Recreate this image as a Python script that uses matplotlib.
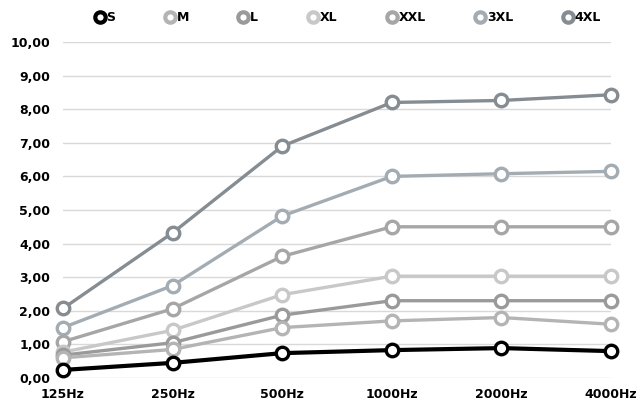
import matplotlib
matplotlib.use("Agg")
import matplotlib.pyplot as plt
from matplotlib.lines import Line2D

plt.rcParams["font.family"] = ["DejaVu Sans"]

categories = ["125Hz", "250Hz", "500Hz", "1000Hz", "2000Hz", "4000Hz"]
sizes = ["S", "M", "L", "XL", "XXL", "3XL", "4XL"]

s_vals = [0.24, 0.45, 0.74, 0.83, 0.89, 0.80]
m_vals = [0.60, 0.85, 1.50, 1.70, 1.80, 1.60]
l_vals = [0.68, 1.05, 1.87, 2.30, 2.30, 2.30]
xl_vals = [0.77, 1.42, 2.48, 3.03, 3.03, 3.03]
xxl_vals = [1.08, 2.06, 3.62, 4.50, 4.50, 4.50]
x3l_vals = [1.50, 2.75, 4.82, 6.00, 6.08, 6.15]
x4l_vals = [2.07, 4.32, 6.90, 8.20, 8.26, 8.43]

series = [s_vals, m_vals, l_vals, xl_vals, xxl_vals, x3l_vals, x4l_vals]
colors = ["#000000", "#b4b4b4", "#9a9a9a", "#c8c8c8", "#a6a6a6", "#a4acb3", "#858c92"]

fig = plt.figure(figsize=(6.38, 4.08), dpi=100)
ax = fig.add_axes([63 / 638, 30 / 408, 548 / 638, 336 / 408])

x = list(range(len(categories)))
# draw from biggest to smallest so S sits on top
for vals, col, name in reversed(list(zip(series, colors, sizes))):
    lw = 3.0 if name == "S" else 2.4
    ax.plot(x, vals, color=col, lw=lw, marker="o", markersize=9,
            markerfacecolor="white", markeredgecolor=col, markeredgewidth=2.4,
            zorder=3, clip_on=False)

ax.set_xlim(0, len(categories) - 1)
ax.set_ylim(0, 10)
ax.set_yticks([i for i in range(11)])
ax.set_yticklabels([f"{i},00" for i in range(11)])
ax.set_xticks(x)
ax.set_xticklabels(categories)
ax.grid(axis="y", color="#d9d9d9", lw=1)
ax.set_axisbelow(True)
for sp in ax.spines.values():
    sp.set_visible(False)
ax.tick_params(length=0, labelsize=9)
ax.tick_params(axis="y", pad=9)
ax.tick_params(axis="x", pad=7)
for lab in ax.get_xticklabels() + ax.get_yticklabels():
    lab.set_fontweight("bold")

handles = [
    Line2D([], [], linestyle="none", marker="o", markersize=7.5,
           markerfacecolor="white", markeredgecolor=c, markeredgewidth=3.0)
    for c in colors
]
leg = fig.legend(handles, sizes, loc="center", bbox_to_anchor=(0.545, 0.957),
                 ncol=7, frameon=False, handlelength=0.8, handletextpad=0.15,
                 columnspacing=3.95, prop={"weight": "bold", "size": 9})

fig.savefig("out.png", dpi=100)
